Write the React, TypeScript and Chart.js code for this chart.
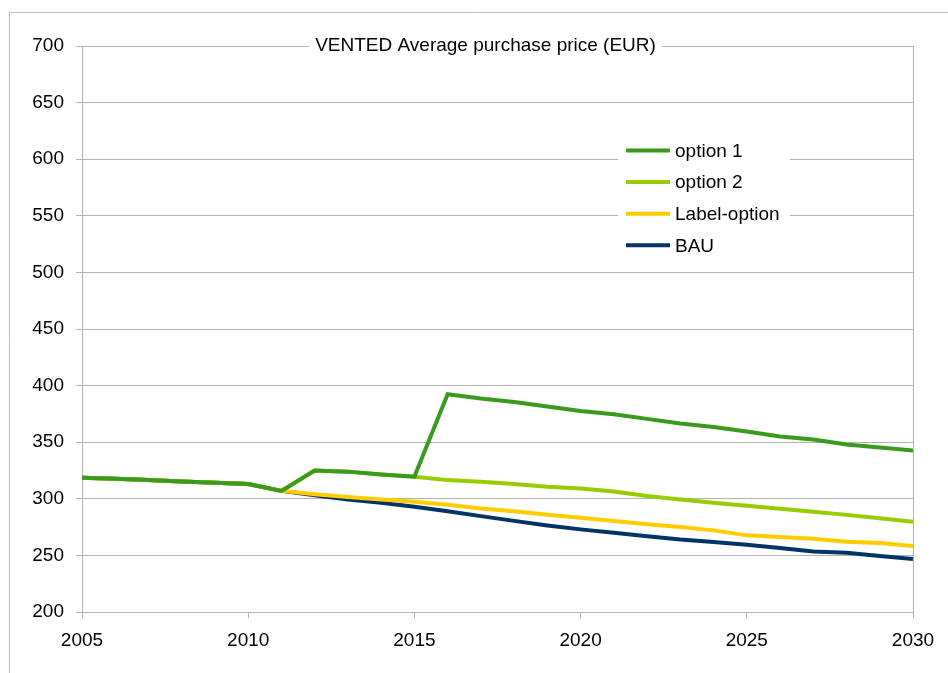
import React, { useEffect, useRef } from "react";
import { Chart, registerables } from "chart.js";

Chart.register(...registerables);

const years = [2005, 2006, 2007, 2008, 2009, 2010, 2011, 2012, 2013, 2014, 2015, 2016, 2017, 2018, 2019, 2020, 2021, 2022, 2023, 2024, 2025, 2026, 2027, 2028, 2029, 2030];

const option1 = [318.6, 317.7, 316.5, 315.3, 314.1, 313, 307, 325, 324, 321.5, 319.5, 392.4, 388.6, 385.6, 381.5, 377.6, 374.7, 370.6, 366.5, 363.5, 359.4, 355, 352.4, 348, 345.3, 342.6];
const option2 = [318.6, 317.7, 316.5, 315.3, 314.1, 313, 307, 325, 324, 321.5, 319.5, 316.5, 315, 313, 310.6, 309, 306.5, 302.4, 299.4, 296.5, 293.8, 291.2, 288.5, 285.8, 282.9, 279.7];
const labelOption = [318.6, 317.7, 316.5, 315.3, 314.1, 313, 307, 304, 301.5, 299.4, 297.3, 294.7, 291.5, 289, 285.9, 283.3, 280.3, 277.6, 275, 272.1, 267.7, 266.2, 264.7, 262.1, 260.9, 258.2];
const bau = [318.6, 317.7, 316.5, 315.3, 314.1, 313, 307, 303.2, 299.4, 296.5, 292.9, 289, 284.7, 280.5, 276.5, 273, 270, 267, 264, 261.8, 259.4, 256.5, 253.5, 252.4, 249.4, 246.8];

const seriesNames = ["option 1", "option 2", "Label-option", "BAU"];
const seriesColors = ["#3a9a1e", "#99cc00", "#ffcc00", "#003366"];
const seriesValues = [option1, option2, labelOption, bau];

const title = "VENTED Average purchase price (EUR)";
const FONT = "'Liberation Sans', Arial, sans-serif";
const FS = 19;

export default function App() {
  const ref = useRef<HTMLCanvasElement | null>(null);

  useEffect(() => {
    if (!ref.current) return;

    const overlay = {
      id: "overlay",
      beforeDraw(chart: any) {
        const ctx = chart.ctx;
        ctx.save();
        ctx.fillStyle = "#ffffff";
        ctx.fillRect(0, 0, chart.width, chart.height);
        ctx.strokeStyle = "#c0c0c0";
        ctx.lineWidth = 1;
        ctx.beginPath();
        ctx.moveTo(9.5, chart.height + 5);
        ctx.lineTo(9.5, 12.5);
        ctx.lineTo(chart.width + 5, 12.5);
        ctx.stroke();
        ctx.restore();
      },
      afterDraw(chart: any) {
        const ctx = chart.ctx;
        const area = chart.chartArea;
        ctx.save();
        // right border of plot area
        ctx.strokeStyle = "#b3b3b3";
        ctx.lineWidth = 1;
        ctx.beginPath();
        ctx.moveTo(Math.round(area.right) + 0.5, area.top);
        ctx.lineTo(Math.round(area.right) + 0.5, area.bottom + 6);
        ctx.stroke();

        // title
        ctx.font = `${FS}px ${FONT}`;
        ctx.textBaseline = "middle";
        ctx.textAlign = "center";
        const tw = ctx.measureText(title).width;
        const tx = 485.5;
        const ty = area.top;
        ctx.fillStyle = "#ffffff";
        ctx.fillRect(tx - tw / 2 - 6, ty - 13, tw + 12, 26);
        ctx.fillStyle = "#000000";
        ctx.fillText(title, tx, ty);

        // legend
        const lx = 618;
        const ly = 136;
        ctx.fillStyle = "#ffffff";
        ctx.fillRect(lx, ly, 172, 126);
        const datasets = chart.data.datasets;
        ctx.textAlign = "left";
        for (let i = 0; i < datasets.length; i++) {
          const y = 150.5 + i * 31.6;
          ctx.strokeStyle = datasets[i].borderColor;
          ctx.lineWidth = 4;
          ctx.beginPath();
          ctx.moveTo(626, y);
          ctx.lineTo(670, y);
          ctx.stroke();
          ctx.fillStyle = "#000000";
          ctx.fillText(datasets[i].label, 675, y + 1);
        }
        ctx.restore();
      },
    };

    const chart = new Chart(ref.current, {
      type: "line",
      data: {
        datasets: seriesNames.map((name, i) => ({
          label: name,
          data: years.map((yr, j) => ({ x: yr, y: seriesValues[i][j] })),
          borderColor: seriesColors[i],
          backgroundColor: seriesColors[i],
          borderWidth: 4,
          pointRadius: 0,
          tension: 0,
          fill: false,
        })),
      },
      options: {
        animation: false,
        responsive: false,
        maintainAspectRatio: false,
        layout: { padding: { left: 0, top: 46, right: 35, bottom: 0 } },
        plugins: {
          legend: { display: false },
          title: { display: false },
          tooltip: { enabled: false },
        },
        scales: {
          x: {
            type: "linear",
            min: 2005,
            max: 2030,
            ticks: {
              stepSize: 5,
              color: "#000000",
              font: { family: FONT, size: FS },
              padding: 11,
              callback: (v: any) => String(v),
              maxRotation: 0,
            },
            grid: {
              drawOnChartArea: false,
              drawTicks: true,
              tickLength: 6,
              color: "#b3b3b3",
            },
            border: { display: true, color: "#b3b3b3" },
            afterFit: (scale: any) => {
              scale.height = 61;
            },
          },
          y: {
            min: 200,
            max: 700,
            ticks: {
              stepSize: 50,
              color: "#000000",
              font: { family: FONT, size: FS },
              padding: 12,
            },
            grid: {
              color: "#b3b3b3",
              tickLength: 6,
              drawTicks: true,
            },
            border: { display: true, color: "#b3b3b3" },
            afterFit: (scale: any) => {
              scale.width = 82;
            },
          },
        },
      },
      plugins: [overlay],
    });

    return () => chart.destroy();
  }, []);

  return (
    <div style={{ position: "fixed", left: 0, top: 0, width: 948, height: 673 }}>
      <canvas ref={ref} width={948} height={673} style={{ width: 948, height: 673, display: "block" }} />
    </div>
  );
}
